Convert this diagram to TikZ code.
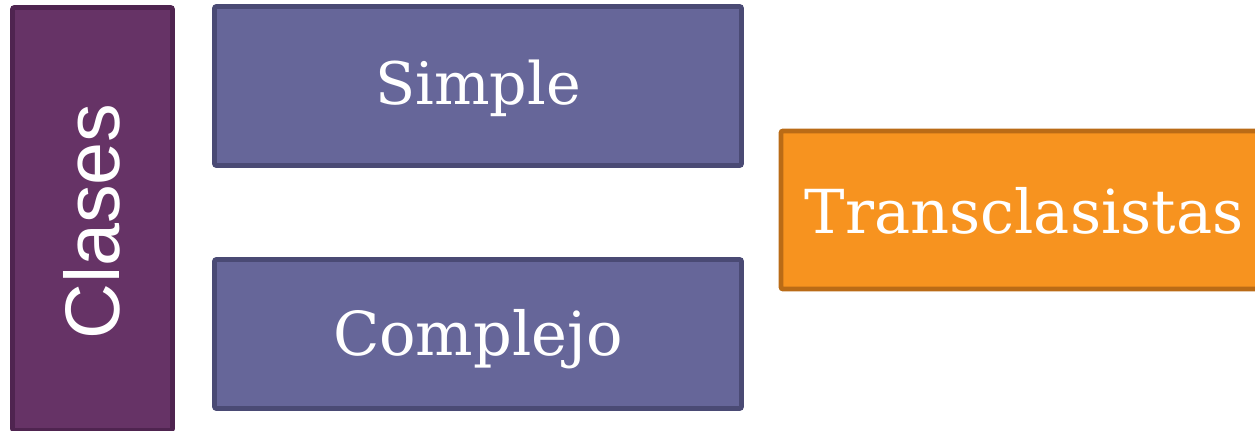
\documentclass[tikz,border=0pt]{standalone}
\usepackage{fontspec}
\setmainfont{DejaVu Serif}
\newfontfamily\clasesfont{Liberation Sans}
\definecolor{purpfill}{HTML}{663366}
\definecolor{purpline}{HTML}{4F2450}
\definecolor{bluefill}{HTML}{666699}
\definecolor{blueline}{HTML}{4A4A74}
\definecolor{orfill}{HTML}{F7931F}
\definecolor{orline}{HTML}{BA6B16}
\tikzset{
  box/.style={rectangle, rounded corners=1.5pt, line width=3.6pt, inner sep=0pt, text=white},
  purp/.style={box, fill=purpfill, draw=purpline},
  blu/.style={box, fill=bluefill, draw=blueline},
  ora/.style={box, fill=orfill, draw=orline},
  lbl/.style={text=white, inner sep=0pt, anchor=base, font=\fontsize{45.5}{48}\selectfont},
}
\begin{document}
\begin{tikzpicture}[x=0.75pt,y=-0.75pt]
\useasboundingbox (0,0) rectangle (1255,431);
\clip (0,0) rectangle (1255,431);
\node[purp, minimum width=160*0.75pt, minimum height=423*0.75pt] (clases) at (92.5,219) {};
\node[lbl, rotate=90, font=\clasesfont\fontsize{58}{62}\selectfont] (clasestxt) at (119.5,221.5) {Clases};
\node[blu, minimum width=527*0.75pt, minimum height=159*0.75pt] (simple) at (478,86) {};
\node[lbl, font=\fontsize{44}{48}\selectfont] (simpletxt) at (478,105) {Simple};
\node[blu, minimum width=527*0.75pt, minimum height=149*0.75pt] (complejo) at (478,334) {};
\node[lbl] (complejotxt) at (478,355) {Complejo};
\node[ora, minimum width=486*0.75pt, minimum height=158*0.75pt] (trans) at (1024,210) {};
\node[lbl] (transtxt) at (1024,233) {Transclasistas};
\end{tikzpicture}
\end{document}
